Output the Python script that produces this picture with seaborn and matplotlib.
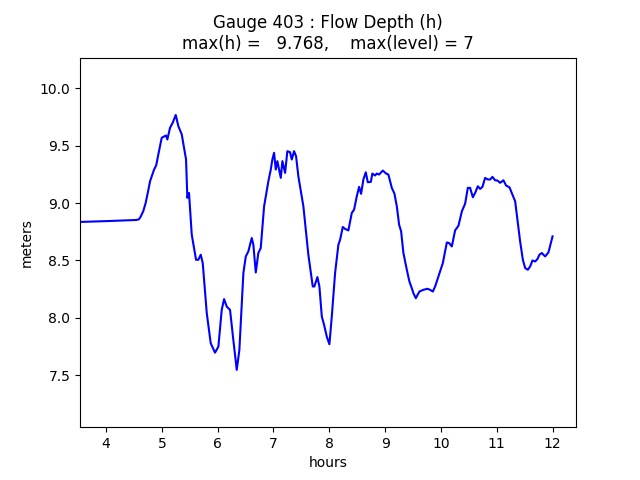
import matplotlib
matplotlib.use("Agg")
import matplotlib.pyplot as plt
import seaborn as sns

# --------- DATA -------------------------------------
hours = [3.534, 4.0, 4.540, 4.590, 4.620, 4.668, 4.710, 4.760, 4.789, 4.860,
         4.900, 4.937, 4.998, 5.075, 5.099,
         5.147, 5.195, 5.249, 5.296, 5.357, 5.434, 5.457, 5.487, 5.536, 5.613,
         5.654, 5.697, 5.733, 5.805, 5.876, 5.953, 6.013, 6.073, 6.115, 6.163,
         6.222, 6.281, 6.342, 6.389, 6.461, 6.504, 6.550, 6.611, 6.640, 6.683,
         6.729, 6.772, 6.832, 6.909, 6.952, 6.980, 7.011, 7.041, 7.070, 7.100,
         7.131, 7.160, 7.208, 7.249, 7.297, 7.328, 7.369, 7.405, 7.446, 7.536,
         7.625, 7.704, 7.733, 7.787, 7.823, 7.866, 7.907, 7.955, 8.002, 8.045,
         8.104, 8.163, 8.194, 8.242, 8.283, 8.342, 8.403, 8.444, 8.493, 8.534,
         8.570, 8.611, 8.654, 8.690, 8.744, 8.772, 8.821, 8.851, 8.892, 8.959,
         9.018, 9.059, 9.120, 9.167, 9.210, 9.251, 9.287, 9.328, 9.389, 9.435,
         9.478, 9.507, 9.550, 9.615, 9.686, 9.758, 9.806, 9.855, 9.896, 9.955,
         10.034, 10.106, 10.147, 10.195, 10.254, 10.314, 10.375, 10.434, 10.482, 10.523,
         10.572, 10.613, 10.661, 10.703, 10.744, 10.792, 10.841, 10.882, 10.923, 10.971,
         11.013, 11.061, 11.120, 11.168, 11.228, 11.282, 11.330, 11.371, 11.419, 11.468,
         11.509, 11.557, 11.599, 11.640, 11.688, 11.729, 11.765, 11.808, 11.867, 11.926,
         12.0]

depth = [8.835, 8.842, 8.852, 8.858, 8.880, 8.930, 9.000, 9.117, 9.190, 9.290,
         9.330, 9.423, 9.569, 9.589, 9.554,
         9.656, 9.700, 9.768, 9.670, 9.598, 9.379, 9.045, 9.088, 8.724, 8.505,
         8.505, 8.549, 8.476, 8.039, 7.777, 7.695, 7.747, 8.068, 8.162, 8.097,
         8.068, 7.806, 7.545, 7.718, 8.389, 8.534, 8.578, 8.695, 8.636, 8.394,
         8.564, 8.607, 8.971, 9.190, 9.292, 9.379, 9.438, 9.292, 9.365, 9.292,
         9.219, 9.365, 9.263, 9.452, 9.443, 9.379, 9.452, 9.408, 9.233, 8.971,
         8.549, 8.272, 8.272, 8.354, 8.272, 8.010, 7.937, 7.835, 7.768, 8.010,
         8.389, 8.636, 8.680, 8.791, 8.774, 8.761, 8.913, 8.942, 9.059, 9.141,
         9.080, 9.205, 9.268, 9.181, 9.184, 9.257, 9.240, 9.257, 9.248, 9.283,
         9.257, 9.248, 9.132, 9.082, 8.971, 8.811, 8.753, 8.564, 8.418, 8.316,
         8.258, 8.214, 8.170, 8.228, 8.243, 8.252, 8.243, 8.228, 8.272, 8.359,
         8.476, 8.656, 8.651, 8.621, 8.761, 8.802, 8.927, 8.995, 9.132, 9.132,
         9.050, 9.088, 9.146, 9.123, 9.141, 9.219, 9.205, 9.205, 9.228, 9.198,
         9.196, 9.176, 9.198, 9.152, 9.137, 9.073, 9.015, 8.855, 8.665, 8.505,
         8.433, 8.418, 8.447, 8.499, 8.490, 8.511, 8.549, 8.564, 8.534, 8.569,
         8.709]

gauge = 403
max_level = 7
h_max = max(depth)
h_min = min(depth)

# --------- PLOT ----------
fig, ax = plt.subplots(figsize=(6.4, 4.8), dpi=100)
sns.lineplot(x=hours, y=depth, color="blue", linewidth=1.5,
             estimator=None, sort=False, ax=ax)

ax.set_title("Gauge %d : Flow Depth (h)\nmax(h) = %7.3f,    max(level) = %d"
             % (gauge, h_max, max_level))
ax.set_xlabel("hours")
ax.set_ylabel("meters")
ax.set_xlim(3.534, 12.42)
ax.set_ylim(h_min - 0.5, h_max + 0.5)

fig.savefig("out.png", dpi=100)
